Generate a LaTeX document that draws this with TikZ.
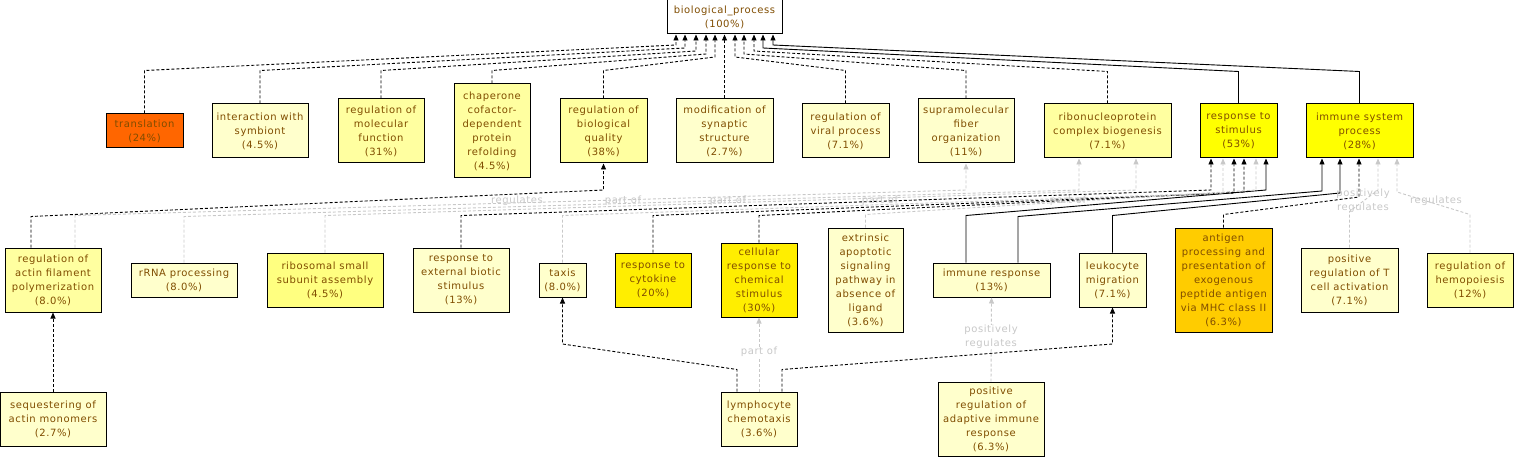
\documentclass[tikz,border=0pt]{standalone}
\usepackage{fontspec}
\setmainfont{DejaVu Sans}[LetterSpace=6]
\usetikzlibrary{arrows.meta}
\definecolor{txt}{RGB}{128,77,0}
\definecolor{lgray}{RGB}{200,200,200}
\definecolor{cLight}{RGB}{255,255,204}
\definecolor{cMid}{RGB}{255,255,160}
\definecolor{cMid2}{RGB}{255,255,128}
\definecolor{cYel}{RGB}{255,255,0}
\definecolor{cGold}{RGB}{255,238,0}
\definecolor{cAmber}{RGB}{255,204,0}
\definecolor{cOrange}{RGB}{255,102,0}
\begin{document}
\begin{tikzpicture}[x=1pt,y=-1pt,
  gonode/.style={draw=black, line width=1pt, text=txt, font=\fontsize{10}{14}\selectfont, align=center, inner sep=0pt},
  glabel/.style={text=lgray, font=\fontsize{10}{14}\selectfont, align=center, inner sep=0.5pt},
  isa/.style={draw=black, line width=0.9pt, dash pattern=on 3pt off 2pt, -{Triangle[length=6pt,width=5pt]}},
  isasolid/.style={draw=black, line width=0.9pt, -{Triangle[length=6pt,width=5pt]}},
  rel/.style={draw=lgray, line width=0.9pt, dash pattern=on 3pt off 2pt, -{Triangle[length=6pt,width=5pt]}}]
\useasboundingbox (0,0) rectangle (1514,457);

% ---- nodes ----
\node[gonode, fill=white, minimum width=115pt, minimum height=34pt] (root) at (724.5,17) {biological\_process\\(100\%)};

\node[gonode, fill=cOrange, minimum width=77pt, minimum height=34pt] (translation) at (144.5,131) {translation\\(24\%)};
\node[gonode, fill=cLight, minimum width=96pt, minimum height=54pt] (symb) at (260,131) {interaction with\\symbiont\\(4.5\%)};
\node[gonode, fill=cMid, minimum width=86pt, minimum height=64pt] (molfn) at (381,131) {regulation of\\molecular\\function\\(31\%)};
\node[gonode, fill=cMid, minimum width=76pt, minimum height=94pt] (chap) at (492,131) {chaperone\\cofactor-\\dependent\\protein\\refolding\\(4.5\%)};
\node[gonode, fill=cMid, minimum width=87pt, minimum height=64pt] (bioq) at (603.5,131) {regulation of\\biological\\quality\\(38\%)};
\node[gonode, fill=cLight, minimum width=97pt, minimum height=64pt] (synap) at (724.5,131) {modification of\\synaptic\\structure\\(2.7\%)};
\node[gonode, fill=cLight, minimum width=87pt, minimum height=54pt] (viral) at (845.5,131) {regulation of\\viral process\\(7.1\%)};
\node[gonode, fill=cLight, minimum width=96pt, minimum height=64pt] (supra) at (966,131) {supramolecular\\fiber\\organization\\(11\%)};
\node[gonode, fill=cMid, minimum width=127pt, minimum height=54pt] (rnp) at (1107.5,131) {ribonucleoprotein\\complex biogenesis\\(7.1\%)};
\node[gonode, fill=cYel, minimum width=77pt, minimum height=54pt] (stim) at (1238.5,131) {response to\\stimulus\\(53\%)};
\node[gonode, fill=cYel, minimum width=107pt, minimum height=54pt] (immsys) at (1359.5,131) {immune system\\process\\(28\%)};

\node[gonode, fill=cMid, minimum width=96pt, minimum height=64pt] (actin) at (53,280) {regulation of\\actin filament\\polymerization\\(8.0\%)};
\node[gonode, fill=cLight, minimum width=106pt, minimum height=34pt] (rrna) at (184,280) {rRNA processing\\(8.0\%)};
\node[gonode, fill=cMid2, minimum width=116pt, minimum height=54pt] (ribos) at (325,280) {ribosomal small\\subunit assembly\\(4.5\%)};
\node[gonode, fill=cLight, minimum width=96pt, minimum height=64pt] (extbio) at (461,280) {response to\\external biotic\\stimulus\\(13\%)};
\node[gonode, fill=cLight, minimum width=47pt, minimum height=34pt] (taxis) at (562.5,280) {taxis\\(8.0\%)};
\node[gonode, fill=cGold, minimum width=76pt, minimum height=54pt] (cytok) at (653,280) {response to\\cytokine\\(20\%)};
\node[gonode, fill=cGold, minimum width=76pt, minimum height=74pt] (chem) at (759,280) {cellular\\response to\\chemical\\stimulus\\(30\%)};
\node[gonode, fill=cLight, minimum width=75pt, minimum height=104pt] (apop) at (865.5,280) {extrinsic\\apoptotic\\signaling\\pathway in\\absence of\\ligand\\(3.6\%)};
\node[gonode, fill=cLight, minimum width=117pt, minimum height=34pt] (immresp) at (991.5,280) {immune response\\(13\%)};
\node[gonode, fill=cLight, minimum width=67pt, minimum height=54pt] (leuk) at (1112.5,280) {leukocyte\\migration\\(7.1\%)};
\node[gonode, fill=cAmber, minimum width=97pt, minimum height=104pt] (antigen) at (1223.5,280) {antigen\\processing and\\presentation of\\exogenous\\peptide antigen\\via MHC class II\\(6.3\%)};
\node[gonode, fill=cLight, minimum width=97pt, minimum height=64pt] (tcell) at (1349.5,280) {positive\\regulation of T\\cell activation\\(7.1\%)};
\node[gonode, fill=cMid, minimum width=86pt, minimum height=54pt] (hemo) at (1470,280) {regulation of\\hemopoiesis\\(12\%)};

\node[gonode, fill=cLight, minimum width=106pt, minimum height=54pt] (seq) at (53,419) {sequestering of\\actin monomers\\(2.7\%)};
\node[gonode, fill=cLight, minimum width=76pt, minimum height=54pt] (lymph) at (759,419) {lymphocyte\\chemotaxis\\(3.6\%)};
\node[gonode, fill=cLight, minimum width=106pt, minimum height=74pt] (adapt) at (991,419) {positive\\regulation of\\adaptive immune\\response\\(6.3\%)};

% ---- anchor points ----
\path (root.south) ++(-48.5,0) coordinate (r1) ++(9,0) coordinate (r2) ++(11,0) coordinate (r3)
  ++(10,0) coordinate (r4) ++(9,0) coordinate (r5);
\path (root.south) ++(10.5,0) coordinate (r7) ++(9,0) coordinate (r8) ++(10,0) coordinate (r9)
  ++(9,0) coordinate (r10) ++(10,0) coordinate (r11);
\path (stim.south) ++(-27.5,0) coordinate (s1) ++(12,0) coordinate (s2) ++(11,0) coordinate (s3)
  ++(10,0) coordinate (s4) ++(12,0) coordinate (s5) ++(10,0) coordinate (s6);
\path (immsys.south) ++(-37.5,0) coordinate (m1) ++(18,0) coordinate (m2) ++(19,0) coordinate (m3)
  ++(19,0) coordinate (m4) ++(19,0) coordinate (m5);
\path (rnp.south) ++(-28.5,0) coordinate (n1) ++(57,0) coordinate (n2);
\path (actin.north) ++(-22,0) coordinate (a1) ++(44,0) coordinate (a2);
\path (immresp.north) ++(-25.5,0) coordinate (i1) ++(52,0) coordinate (i2);
\path (lymph.north) ++(-22,0) coordinate (l1) ++(45,0) coordinate (l2);

% ---- edges to root ----
\draw[isa] (translation.north) -- ++(0,-43) -- (676,45) -- (r1);
\draw[isa] (symb.north) -- ++(0,-33) -- (685,48) -- (r2);
\draw[isa] (molfn.north) -- ++(0,-28) -- (696,51) -- (r3);
\draw[isa] (chap.north) -- ++(0,-13) -- (706,54) -- (r4);
\draw[isa] (bioq.north) -- ++(0,-28) -- (715,57) -- (r5);
\draw[isa] (synap.north) -- (root.south);
\draw[isa] (viral.north) -- ++(0,-33) -- (735,57) -- (r7);
\draw[isa] (supra.north) -- ++(0,-28) -- (744,54) -- (r8);
\draw[isa] (rnp.north) -- ++(0,-32) -- (754,51) -- (r9);
\draw[isasolid] (stim.north) -- ++(0,-32) -- (763,48) -- (r10);
\draw[isasolid] (immsys.north) -- ++(0,-32) -- (773,45) -- (r11);

% ---- row 2 to row 1 ----
\draw[isa] (a1) -- ++(0,-31) -- (603.5,190) -- (bioq.south);
\draw[isa] (extbio.north) -- ++(0,-32) -- (1211,190) -- (s1);
\draw[isa] (cytok.north) -- ++(0,-37) -- (1234,193) -- (s3);
\draw[isa] (chem.north) -- ++(0,-27) -- (1244,192) -- (s4);
\draw[isasolid] (i1) -- ++(0,-47) -- (1266,190) -- (s6);
\draw[isasolid] (i2) -- ++(0,-46) -- (1322,191) -- (m1);
\draw[isasolid] (leuk.north) -- ++(0,-37) -- (1340,193) -- (m2);
\draw[isa] (antigen.north) -- ++(0,-13) -- (1359,197) -- (m3);

\draw[rel] (a2) -- ++(0,-32) -- (966,190) -- (supra.south);
\draw[rel] (rrna.north) -- ++(0,-46) -- (1079,190) -- (n1);
\draw[rel] (ribos.north) -- ++(0,-37) -- (1136,190) -- (n2);
\draw[rel] (taxis.north) -- ++(0,-47) -- (1223,193) -- (s2);
\draw[rel] (apop.north) -- ++(0,-13) -- (1256,190) -- (s5);
\draw[rel] (tcell.north) -- ++(0,-36) -- (1378,190) -- (m4);
\draw[rel] (hemo.north) -- ++(0,-38) -- (1397,192) -- (m5);

\node[glabel] (lb1) at (517,201) {regulates};
\node[glabel] (lb2) at (623,201) {part of};
\node[glabel] (lb3) at (728,201) {part of};
\node[glabel] (lb4) at (880,201) {part of};
\node[glabel] (lb5) at (1068,201) {part of};
\node[glabel] (lb6) at (1363,201) {positively\\regulates};
\node[glabel] (lb7) at (1436,201) {regulates};

% ---- row 3 ----
\draw[isa] (seq.north) -- (actin.south);
\draw[isa] (l1) -- ++(0,-22) -- (562.5,344) -- (taxis.south);
\draw[isa] (l2) -- ++(0,-22) -- (1112.5,344) -- (leuk.south);
\draw[rel] (lymph.north) -- (chem.south);
\draw[rel] (adapt.north) -- (immresp.south);
\node[glabel, fill=white] (lb8) at (759,352) {part of};
\node[glabel, fill=white] (lb9) at (991,337) {positively\\regulates};
\end{tikzpicture}
\end{document}
